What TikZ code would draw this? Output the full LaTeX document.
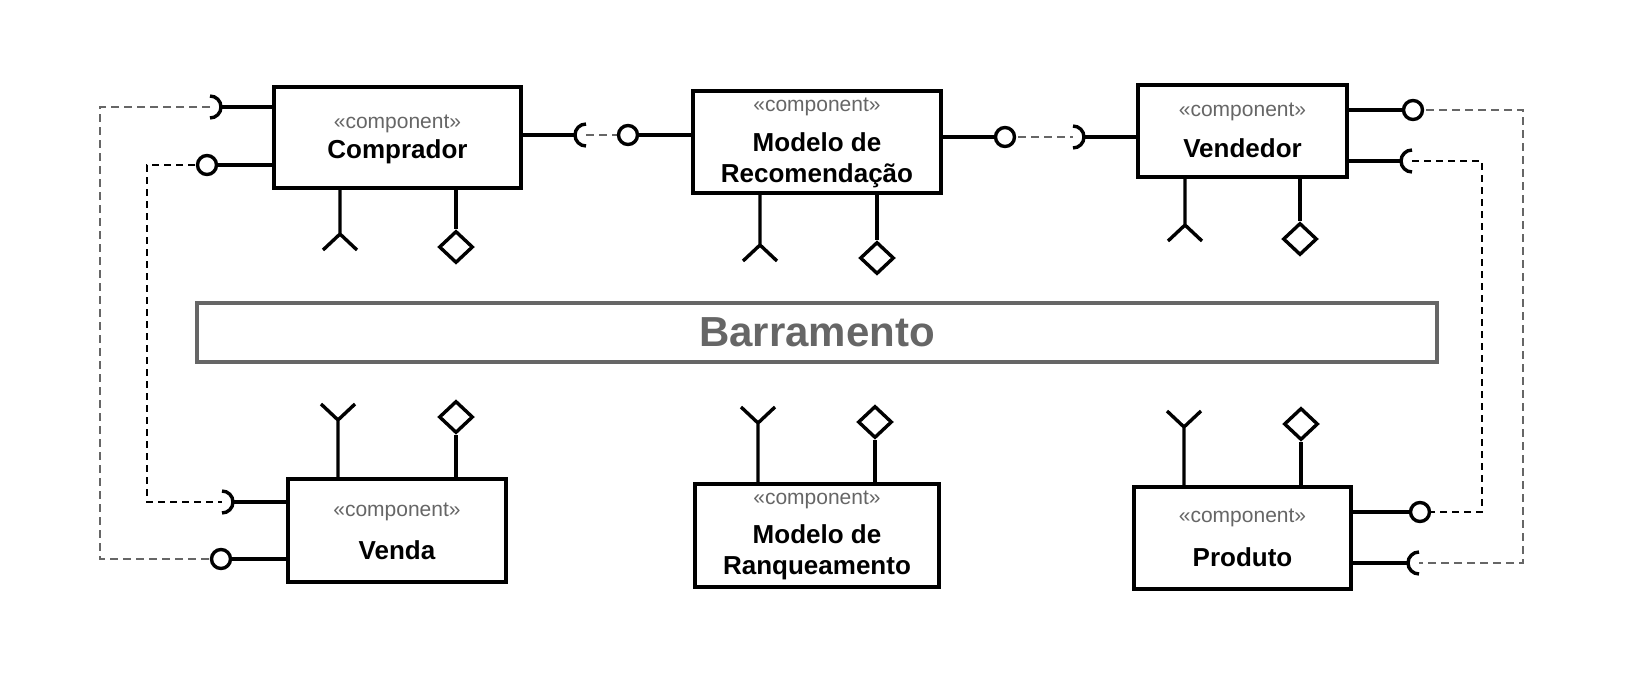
\documentclass[tikz,border=0pt]{standalone}
\usepackage{fontspec}
\setmainfont{Liberation Sans}
\usepackage{tikz}
\usetikzlibrary{shapes.geometric, calc}
\definecolor{stereogray}{HTML}{666666}
\definecolor{busgray}{HTML}{666666}
\definecolor{linkgray}{HTML}{666666}
\tikzset{
    compbox/.style={
        rectangle, draw=black, fill=white, line width=4pt, inner sep=0pt
    },
    stereo/.style={
        font=\fontsize{21}{25}\selectfont, text=stereogray, inner sep=0pt
    },
    comptitle/.style={
        font=\fontsize{26}{31}\selectfont\bfseries, align=center, inner sep=0pt
    },
    busbox/.style={
        rectangle, draw=busgray, line width=3.5pt,
        minimum width=1240pt, minimum height=59pt,
        font=\fontsize{42}{50}\selectfont\bfseries, text=busgray
    },
    port/.style={line width=3.4pt},
    lolli/.style={
        circle, draw=black, fill=white, line width=3.4pt,
        minimum size=19pt, inner sep=0pt
    },
    diaport/.style={
        diamond, draw=black, fill=white, line width=3.4pt,
        minimum width=34pt, minimum height=32pt, inner sep=0pt
    },
    greylink/.style={draw=linkgray, line width=2.2pt, dash pattern=on 8pt off 5pt},
    blacklink/.style={draw=black, line width=2.2pt, dash pattern=on 7pt off 5pt},
}

\begin{document}
\begin{tikzpicture}[x=1pt, y=1pt]
    \useasboundingbox (0,0) rectangle (1626,-680);

    % Components
    \node[compbox, minimum width=247pt, minimum height=101pt] (comprador) at (397.5,-137.5) {};
    \node[compbox, minimum width=248pt, minimum height=102pt] (recom) at (817,-142) {};
    \node[compbox, minimum width=209pt, minimum height=92pt] (vendedor) at (1242.5,-131) {};
    \node[compbox, minimum width=218pt, minimum height=103pt] (venda) at (397,-530.5) {};
    \node[compbox, minimum width=244pt, minimum height=103pt] (ranking) at (817,-535.5) {};
    \node[compbox, minimum width=217pt, minimum height=102pt] (produto) at (1242.5,-538) {};

    % Labels
    \node[stereo] (comprador-st) at ([yshift=14pt]comprador.center) {«component»};
    \node[comptitle] (comprador-t) at ([yshift=-14pt]comprador.center) {Comprador};
    \node[stereo] (recom-st) at ([yshift=35pt]recom.center) {«component»};
    \node[comptitle] (recom-t) at ([yshift=-18pt]recom.center) {Modelo de\\Recomendação};
    \node[stereo] (vendedor-st) at ([yshift=19pt]vendedor.center) {«component»};
    \node[comptitle] (vendedor-t) at ([yshift=-17pt]vendedor.center) {Vendedor};
    \node[stereo] (venda-st) at ([yshift=19pt]venda.center) {«component»};
    \node[comptitle] (venda-t) at ([yshift=-20pt]venda.center) {Venda};
    \node[stereo] (ranking-st) at ([yshift=36pt]ranking.center) {«component»};
    \node[comptitle] (ranking-t) at ([yshift=-17pt]ranking.center) {Modelo de\\Ranqueamento};
    \node[stereo] (produto-st) at ([yshift=20pt]produto.center) {«component»};
    \node[comptitle] (produto-t) at ([yshift=-19pt]produto.center) {Produto};

    % Bus
    \node[busbox] (bus) at (817,-332.5) {Barramento};

    % Interface points
    \coordinate (comprador-sock) at (210,-107);
    \coordinate (comprador-out) at (586,-135);
    \coordinate (vendedor-in) at (1073,-137);
    \coordinate (vendedor-sock) at (1412,-161);
    \coordinate (venda-sock) at (222,-502);
    \coordinate (produto-sock) at (1419,-563);
    \coordinate (outer-left) at (100,-107);
    \coordinate (inner-left) at (147,-165);
    \coordinate (outer-right) at (1523,-110);
    \coordinate (inner-right) at (1482,-161);

    % Dashed links
    \draw[greylink] (comprador-sock) -- (outer-left) |- (221,-559);
    \draw[blacklink] (207,-165) -- (inner-left) |- (venda-sock);
    \draw[greylink] (comprador-out) -- (628,-135);
    \draw[greylink] (1005,-137) -- (vendedor-in);
    \draw[greylink] (1413,-110) -- (outer-right) |- (produto-sock);
    \draw[blacklink] (vendedor-sock) -- (inner-right) |- (1420,-512);

    % Provided interfaces
    \node[lolli] (comprador-pin) at (207,-165) {};
    \node[lolli] (recom-in) at (628,-135) {};
    \node[lolli] (recom-out) at (1005,-137) {};
    \node[lolli] (vendedor-pin) at (1413,-110) {};
    \node[lolli] (venda-pin) at (221,-559) {};
    \node[lolli] (produto-pin) at (1420,-512) {};

    \draw[port] (comprador.west |- comprador-pin) -- (comprador-pin);
    \draw[port] (recom.west |- recom-in) -- (recom-in);
    \draw[port] (recom.east |- recom-out) -- (recom-out);
    \draw[port] (vendedor.east |- vendedor-pin) -- (vendedor-pin);
    \draw[port] (venda.west |- venda-pin) -- (venda-pin);
    \draw[port] (produto.east |- produto-pin) -- (produto-pin);

    % Required interfaces
    \draw[port] (comprador.west |- comprador-sock) -- ([xshift=11pt]comprador-sock);
    \draw[port] (comprador.east |- comprador-out) -- ([xshift=-11pt]comprador-out);
    \draw[port] (vendedor.west |- vendedor-in) -- ([xshift=11pt]vendedor-in);
    \draw[port] (vendedor.east |- vendedor-sock) -- ([xshift=-11pt]vendedor-sock);
    \draw[port] (venda.west |- venda-sock) -- ([xshift=11pt]venda-sock);
    \draw[port] (produto.east |- produto-sock) -- ([xshift=-11pt]produto-sock);
    \foreach \s/\e in {comprador-sock/-90, vendedor-in/-90, venda-sock/-90,
                       comprador-out/270, vendedor-sock/270, produto-sock/270}
        \draw[port] ([yshift=11pt]\s) arc[start angle=90, end angle=\e, radius=11];

    % Forks
    \coordinate (comprador-fork) at (340,-234);
    \coordinate (recom-fork) at (760,-245);
    \coordinate (vendedor-fork) at (1185,-225);
    \coordinate (venda-fork) at (338,-420);
    \coordinate (ranking-fork) at (758,-423);
    \coordinate (produto-fork) at (1184,-427);
    \foreach \c in {comprador, recom, vendedor}
        \draw[port] (\c.south -| \c-fork) -- (\c-fork) -- ++(-17,-16) (\c-fork) -- ++(17,-16);
    \foreach \c in {venda, ranking, produto}
        \draw[port] (\c.north -| \c-fork) -- (\c-fork) -- ++(-17,16) (\c-fork) -- ++(17,16);

    % Diamonds
    \node[diaport] (comprador-dia) at (456,-247) {};
    \node[diaport] (recom-dia) at (877,-258) {};
    \node[diaport] (vendedor-dia) at (1300,-239) {};
    \node[diaport] (venda-dia) at (456,-417) {};
    \node[diaport] (ranking-dia) at (875,-422) {};
    \node[diaport] (produto-dia) at (1301,-424) {};
    \foreach \c in {comprador, recom, vendedor}
        \draw[port] (\c.south -| \c-dia) -- (\c-dia.north);
    \foreach \c in {venda, ranking, produto}
        \draw[port] (\c.north -| \c-dia) -- (\c-dia.south);

\end{tikzpicture}
\end{document}
